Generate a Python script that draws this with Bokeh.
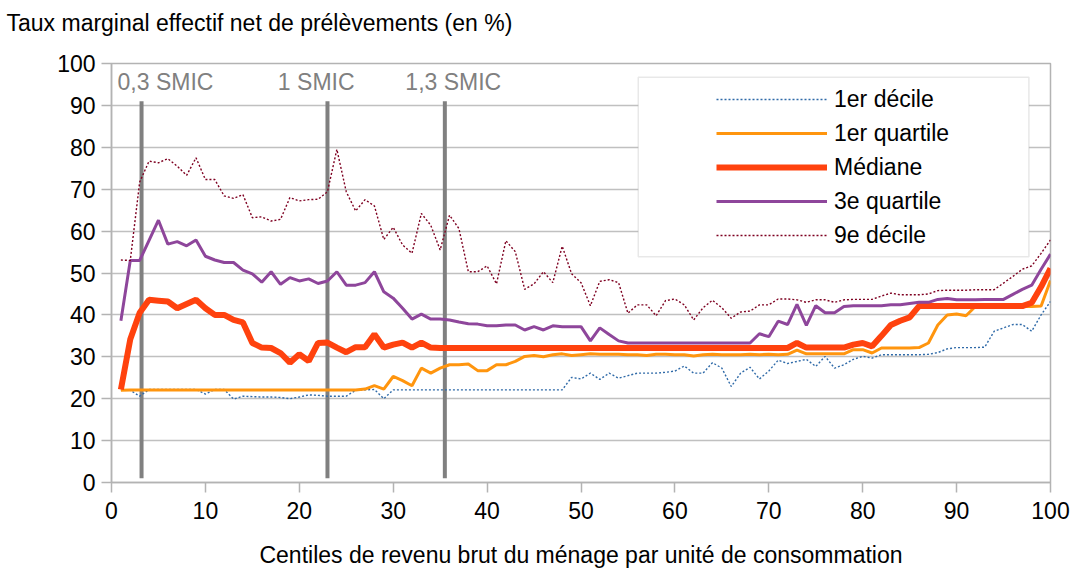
from bokeh.plotting import figure
from bokeh.models import Range1d, Legend, LegendItem, BoxAnnotation, FixedTicker, ColumnDataSource, Title
from bokeh.core.properties import value
from bokeh.embed import file_html
from bokeh.resources import INLINE

# ---- data ----
centiles = list(range(1, 101))

decile_1 = [22.0, 22.0, 20.6, 22.2, 22.2, 22.2, 22.2, 22.2, 22.2, 21.1,
            22.2, 22.2, 19.9, 20.6, 20.5, 20.4, 20.4, 20.3, 20.0, 20.4,
            20.9, 20.8, 20.6, 20.6, 20.6, 22.0, 22.1, 22.2, 20.0, 22.1,
            22.1, 22.1, 22.1, 22.1, 22.1, 22.1, 22.1, 22.1, 22.1, 22.1,
            22.1, 22.1, 22.1, 22.1, 22.1, 22.1, 22.1, 22.1, 25.1, 24.7,
            26.1, 24.6, 26.1, 24.9, 25.5, 26.1, 26.1, 26.1, 26.3, 26.6,
            27.8, 26.1, 26.1, 28.6, 27.3, 22.9, 26.1, 27.5, 24.7, 26.6,
            29.2, 28.4, 28.9, 29.4, 27.7, 30.1, 27.3, 28.1, 29.4, 30.1,
            29.7, 30.5, 30.5, 30.5, 30.5, 30.5, 30.6, 31.0, 31.9, 32.2,
            32.2, 32.2, 32.3, 36.1, 36.9, 37.7, 37.7, 36.1, 40.0, 43.2]

quartile_1 = [22.0, 22.1, 22.1, 22.1, 22.1, 22.1, 22.1, 22.1, 22.1, 22.1,
              22.1, 22.1, 22.1, 22.1, 22.1, 22.1, 22.1, 22.1, 22.1, 22.1,
              22.1, 22.1, 22.1, 22.1, 22.1, 22.1, 22.3, 23.1, 22.3, 25.3,
              24.3, 23.1, 27.3, 26.1, 27.3, 28.1, 28.1, 28.3, 26.7, 26.7,
              28.1, 28.1, 28.9, 30.1, 30.3, 30.0, 30.5, 30.7, 30.3, 30.5,
              30.7, 30.6, 30.6, 30.6, 30.5, 30.5, 30.3, 30.6, 30.6, 30.5,
              30.5, 30.2, 30.5, 30.6, 30.5, 30.5, 30.5, 30.6, 30.5, 30.6,
              30.5, 30.6, 31.6, 30.7, 30.7, 30.7, 30.7, 30.7, 31.7, 31.7,
              30.9, 32.1, 32.1, 32.1, 32.1, 32.2, 33.3, 37.6, 40.0, 40.2,
              39.8, 42.0, 42.0, 42.0, 42.0, 42.0, 42.0, 42.0, 42.1, 48.2]

mediane = [22.2, 34.2, 40.5, 43.6, 43.4, 43.2, 41.6, 42.6, 43.6, 41.6,
           40.0, 40.0, 38.8, 38.2, 33.3, 32.2, 32.1, 30.9, 28.6, 30.6,
           29.0, 33.3, 33.4, 32.2, 31.1, 32.3, 32.3, 35.4, 32.2, 32.9,
           33.4, 32.2, 33.4, 32.2, 32.1, 32.1, 32.1, 32.1, 32.1, 32.1,
           32.1, 32.1, 32.1, 32.1, 32.1, 32.1, 32.1, 32.1, 32.1, 32.1,
           32.1, 32.1, 32.1, 32.1, 32.1, 32.1, 32.1, 32.1, 32.1, 32.1,
           32.1, 32.1, 32.1, 32.1, 32.1, 32.1, 32.1, 32.1, 32.1, 32.1,
           32.1, 32.1, 33.3, 32.2, 32.2, 32.2, 32.2, 32.2, 32.9, 33.3,
           32.5, 35.0, 37.6, 38.6, 39.4, 42.1, 42.1, 42.1, 42.1, 42.1,
           42.1, 42.1, 42.1, 42.1, 42.1, 42.1, 42.1, 42.9, 46.7, 51.1]

quartile_3 = [38.6, 53.0, 53.0, 57.8, 62.6, 56.9, 57.5, 56.5, 57.9, 54.0,
              53.1, 52.5, 52.5, 50.7, 49.8, 47.8, 50.3, 47.3, 48.9, 48.1,
              48.6, 47.5, 48.1, 50.3, 47.1, 47.1, 47.7, 50.3, 45.5, 44.0,
              41.6, 39.0, 40.2, 39.0, 39.0, 38.8, 38.3, 37.9, 37.8, 37.4,
              37.4, 37.6, 37.6, 36.4, 37.2, 36.4, 37.4, 37.2, 37.2, 37.2,
              33.8, 36.9, 35.3, 33.8, 33.3, 33.3, 33.3, 33.3, 33.3, 33.3,
              33.3, 33.3, 33.3, 33.3, 33.3, 33.3, 33.3, 33.3, 35.5, 34.8,
              38.5, 37.7, 42.5, 37.5, 42.2, 40.5, 40.5, 42.0, 42.2, 42.2,
              42.2, 42.2, 42.4, 42.4, 42.7, 43.0, 43.0, 43.7, 43.9, 43.6,
              43.6, 43.6, 43.7, 43.7, 43.7, 44.9, 46.1, 47.1, 50.9, 54.5]

decile_9 = [53.1, 53.0, 71.7, 76.7, 76.3, 77.3, 75.5, 73.3, 77.5, 72.3,
            72.3, 68.4, 67.8, 68.7, 63.2, 63.4, 62.4, 62.8, 68.0, 67.2,
            67.5, 67.6, 69.4, 79.5, 69.4, 64.8, 67.5, 66.0, 58.0, 60.9,
            56.7, 54.7, 64.2, 61.4, 55.5, 63.8, 60.6, 50.3, 50.3, 51.7,
            47.4, 57.7, 55.1, 46.1, 47.4, 50.3, 47.7, 56.4, 49.8, 47.7,
            42.2, 48.0, 48.4, 47.7, 40.4, 42.4, 42.4, 39.8, 43.4, 43.8,
            42.4, 38.8, 41.7, 43.5, 41.7, 39.2, 40.7, 40.9, 42.4, 42.4,
            43.8, 43.8, 43.6, 43.0, 43.6, 43.6, 43.0, 43.6, 43.7, 43.7,
            43.7, 44.5, 45.2, 44.8, 44.8, 44.8, 45.0, 45.8, 45.9, 45.9,
            45.9, 46.0, 46.0, 46.0, 47.6, 49.2, 50.9, 51.7, 54.7, 57.9]

series_names = ["1er décile", "1er quartile", "Médiane", "3e quartile", "9e décile"]

smic_positions = [3.2, 23.0, 35.5]
smic_labels = ["0,3 SMIC", "1 SMIC", "1,3 SMIC"]
smic_label_x = [5.75, 21.8, 36.4]
smic_line_bottom = 1
smic_line_top = 91
smic_label_y = 95.6

x_ticks = list(range(0, 101, 10))
y_ticks = list(range(0, 101, 10))

title_text = "Taux marginal effectif net de prélèvements (en %)"

# ---- figure ----
FONT = "Liberation Sans"
AXIS_GRAY = "#b3b3b3"
FS = "23px"

p = figure(width=1073, height=570,
           x_range=Range1d(0, 100), y_range=Range1d(0, 100),
           output_backend="svg", toolbar_location=None,
           min_border_left=111, min_border_right=23,
           min_border_top=63, min_border_bottom=88)

# spacer (nearest to the frame) then the real title above it
p.add_layout(Title(text=" ", text_font_size="19px", standoff=0), "above")
p.add_layout(Title(text=title_text, text_font=FONT, text_font_size=FS,
                   text_font_style="normal", text_color="black",
                   align="left", offset=-105), "above")

p.outline_line_color = AXIS_GRAY
p.outline_line_width = 1.5
p.xgrid.visible = False
p.ygrid.grid_line_color = "#c0c0c0"
p.ygrid.grid_line_width = 1.5

for ax in (p.xaxis[0], p.yaxis[0]):
    ax.axis_line_color = AXIS_GRAY
    ax.axis_line_width = 1.5
    ax.major_tick_line_color = AXIS_GRAY
    ax.major_tick_line_width = 1.5
    ax.major_tick_out = 10
    ax.major_tick_in = 0
    ax.minor_tick_line_color = None
    ax.major_label_text_font = FONT
    ax.major_label_text_font_size = FS
    ax.major_label_text_color = "black"

p.xaxis.ticker = FixedTicker(ticks=x_ticks)
p.yaxis.ticker = FixedTicker(ticks=y_ticks)
p.xaxis.major_label_standoff = 9
p.yaxis.major_label_standoff = 6
p.xaxis.axis_label = "Centiles de revenu brut du ménage par unité de consommation"
p.xaxis.axis_label_text_font = FONT
p.xaxis.axis_label_text_font_size = FS
p.xaxis.axis_label_text_font_style = "normal"
p.xaxis.axis_label_text_color = "black"
p.xaxis.axis_label_standoff = 20

src = ColumnDataSource(dict(c=centiles, d1=decile_1, q1=quartile_1, med=mediane,
                            q3=quartile_3, d9=decile_9))

# SMIC markers
p.segment(x0=smic_positions, y0=[smic_line_bottom] * 3, x1=smic_positions,
          y1=[smic_line_top] * 3, line_color="#808080", line_width=4)
p.text(x=smic_label_x, y=[smic_label_y] * 3, text=smic_labels,
       text_font=value(FONT), text_font_size=FS, text_color="#808080",
       text_align="center", text_baseline="middle")

r_d1 = p.line("c", "d1", source=src, line_color="#2f6aa8", line_width=1.4, line_dash="2 2")
r_q1 = p.line("c", "q1", source=src, line_color="#ff950e", line_width=3)
r_med = p.line("c", "med", source=src, line_color="#ff420e", line_width=6)
r_q3 = p.line("c", "q3", source=src, line_color="#8e469b", line_width=3)
r_d9 = p.line("c", "d9", source=src, line_color="#7e0021", line_width=1.4, line_dash="2 2")

box = BoxAnnotation(left=56.1, right=97.7, bottom=53.9, top=96.7,
                    fill_color="white", fill_alpha=1.0,
                    line_color=AXIS_GRAY, line_width=1.5)
p.add_layout(box)

legend = Legend(items=[LegendItem(label=n, renderers=[r]) for n, r in
                       zip(series_names, [r_d1, r_q1, r_med, r_q3, r_d9])],
                location=(605, 230), padding=0, margin=0, spacing=0,
                label_height=34, glyph_height=34, glyph_width=111,
                label_standoff=7, border_line_color=None,
                background_fill_alpha=0,
                label_text_font=FONT, label_text_font_size=FS,
                label_text_color="black")
p.add_layout(legend)

open("out.html", "w").write(file_html(p, INLINE))
